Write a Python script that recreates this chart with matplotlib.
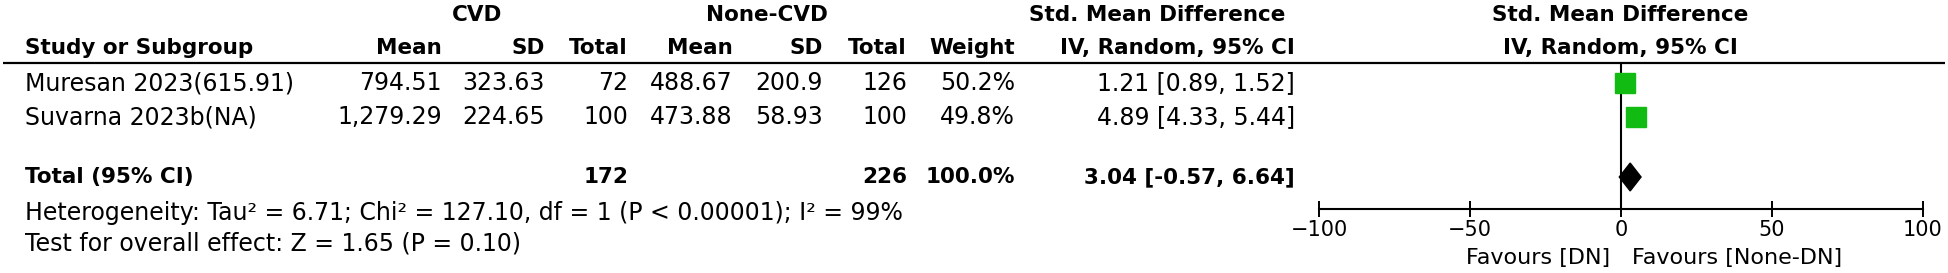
import matplotlib
matplotlib.use("Agg")
from matplotlib import pyplot as plt

# study data
studies = ["Muresan 2023(615.91)", "Suvarna 2023b(NA)"]
cvd_mean = [794.51, 1279.29]
cvd_sd = [323.63, 224.65]
cvd_n = [72, 100]
none_mean = [488.67, 473.88]
none_sd = [200.9, 58.93]
none_n = [126, 100]
weight = [50.2, 49.8]
smd = [1.21, 4.89]
ci_lo = [0.89, 4.33]
ci_hi = [1.52, 5.44]

# pooled result
tot_cvd_n = 172
tot_none_n = 226
tot_weight = 100.0
tot_smd = 3.04
tot_lo = -0.57
tot_hi = 6.64

heterogeneity = "Heterogeneity: Tau² = 6.71; Chi² = 127.10, df = 1 (P < 0.00001); I² = 99%"
overall = "Test for overall effect: Z = 1.65 (P = 0.10)"
ticks = [-100, -50, 0, 50, 100]

W, H = 1949, 273
fig = plt.figure(figsize=(W / 100, H / 100), dpi=100)

# table axes: x in pixels, y in row units (row 0 = first study)
def row(py):
    return (py - 83) / 34

tab = fig.add_axes([0, 0, 1, 1])
tab.set_xlim(0, W)
tab.set_ylim(row(H), row(0))
tab.axis("off")

fs = 17
fb = 15.5
left = 25
col_right = [442, 545, 628, 733, 823, 907, 1015, 1295]

# group headers
tab.text(477, row(15), "CVD", ha="center", va="center", fontsize=fb, fontweight="bold")
tab.text(767, row(15), "None-CVD", ha="center", va="center", fontsize=fb, fontweight="bold")
tab.text(1157, row(15), "Std. Mean Difference", ha="center", va="center", fontsize=fb, fontweight="bold")
tab.text(1620, row(15), "Std. Mean Difference", ha="center", va="center", fontsize=fb, fontweight="bold")

headers = ["Mean", "SD", "Total", "Mean", "SD", "Total", "Weight", "IV, Random, 95% CI"]
tab.text(left, row(48), "Study or Subgroup", ha="left", va="center", fontsize=fb, fontweight="bold")
for x, h in zip(col_right, headers):
    tab.text(x, row(48), h, ha="right", va="center", fontsize=fb, fontweight="bold")
tab.text(1620, row(48), "IV, Random, 95% CI", ha="center", va="center", fontsize=fb, fontweight="bold")

tab.plot([3, 1945], [row(62.5), row(62.5)], color="black", lw=1.6, solid_capstyle="butt")

for i, name in enumerate(studies):
    vals = [f"{cvd_mean[i]:,}", f"{cvd_sd[i]:,}", f"{cvd_n[i]}",
            f"{none_mean[i]:,}", f"{none_sd[i]:,}", f"{none_n[i]}",
            f"{weight[i]:.1f}%", f"{smd[i]:.2f} [{ci_lo[i]:.2f}, {ci_hi[i]:.2f}]"]
    tab.text(left, i, name, ha="left", va="center", fontsize=fs)
    for x, v in zip(col_right, vals):
        tab.text(x, i, v, ha="right", va="center", fontsize=fs)

ty = row(177)
tab.text(left, ty, "Total (95% CI)", ha="left", va="center", fontsize=fb, fontweight="bold")
tot_vals = [(col_right[2], f"{tot_cvd_n}"), (col_right[5], f"{tot_none_n}"),
            (col_right[6], f"{tot_weight:.1f}%"),
            (col_right[7], f"{tot_smd:.2f} [{tot_lo:.2f}, {tot_hi:.2f}]")]
for x, v in tot_vals:
    tab.text(x, ty, v, ha="right", va="center", fontsize=fb, fontweight="bold")

tab.text(left, row(213), heterogeneity, ha="left", va="center", fontsize=fs)
tab.text(left, row(244), overall, ha="left", va="center", fontsize=fs)

tab.text(1610, row(258), "Favours [DN]", ha="right", va="center", fontsize=16)
tab.text(1632, row(258), "Favours [None-DN]", ha="left", va="center", fontsize=16)

# forest plot axes
x0, x1 = 1319, 1923
y_top, y_axis = 63, 209
fx = fig.add_axes([x0 / W, 1 - y_axis / H, (x1 - x0) / W, (y_axis - y_top) / H])
fx.set_xlim(-100, 100)
fx.set_ylim(row(y_axis), row(y_top))
fx.patch.set_alpha(0)
for s in ["top", "left", "right"]:
    fx.spines[s].set_visible(False)
fx.spines["bottom"].set_linewidth(1.5)
fx.set_yticks([])
fx.set_xticks(ticks)
fx.tick_params(axis="x", direction="inout", length=12, width=1.4, labelsize=15, pad=2)

fx.axvline(0, color="black", lw=1.5)
for i in range(len(studies)):
    fx.plot([ci_lo[i], ci_hi[i]], [i, i], color="black", lw=1)
    fx.plot(smd[i], i, marker="s", color="#12bb12", markersize=14.4 * (weight[i] / 50) ** 0.5, linestyle="none")

dh = 0.41
fx.fill([tot_lo, tot_smd, tot_hi, tot_smd], [ty, ty - dh, ty, ty + dh], color="black")

fig.savefig("out.png", dpi=100)
